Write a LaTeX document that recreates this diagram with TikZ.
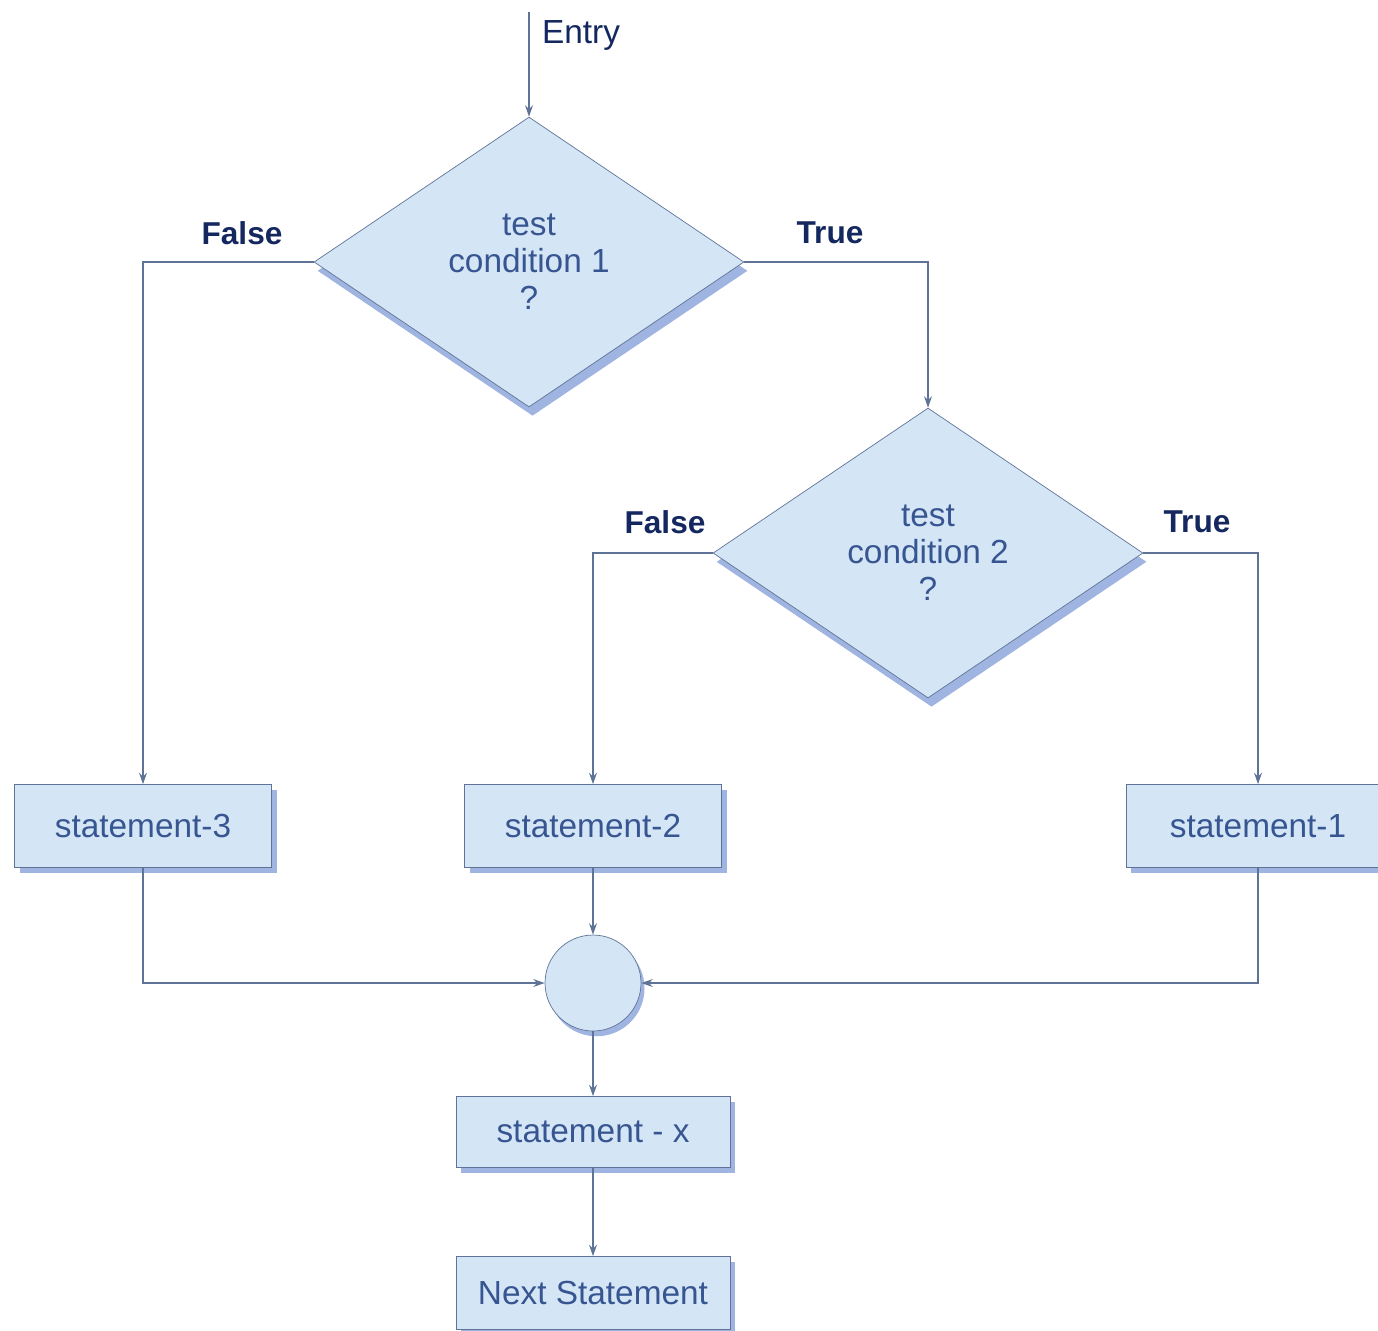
\documentclass[tikz,border=0pt]{standalone}
\usepackage{fontspec}
\setmainfont{Liberation Sans}
\usetikzlibrary{positioning,shapes.geometric,shadows,arrows.meta}
\tikzset{>={Stealth[length=6.5pt,width=4.5pt]}}
\definecolor{boxfill}{RGB}{212,230,246}
\definecolor{boxline}{RGB}{95,115,150}
\definecolor{boxtext}{RGB}{55,85,145}
\definecolor{labtext}{RGB}{20,40,95}
\definecolor{shade}{RGB}{95,130,205}

\begin{document}
\begin{tikzpicture}[x=.02cm,y=-.02cm,
  line/.style={draw=boxline,line width=.8pt},
  test/.style={diamond,draw=boxline,fill=boxfill,text=boxtext,align=center,inner sep=0pt,
    minimum width=8.6cm,minimum height=5.8cm,font=\fontsize{19}{21}\selectfont,
    drop shadow={shadow xshift=2pt,shadow yshift=-5pt,fill=shade,opacity=.6}},
  stmt/.style={rectangle,draw=boxline,fill=boxfill,text=boxtext,
    minimum width=5.15cm,minimum height=1.66cm,font=\fontsize{19}{21}\selectfont,
    drop shadow={shadow xshift=3pt,shadow yshift=-3pt,fill=shade,opacity=.6}},
  merge/.style={circle,draw=boxline,fill=boxfill,minimum size=1.92cm,inner sep=0pt,
    drop shadow={shadow xshift=2pt,shadow yshift=-3pt,fill=shade,opacity=.6}},
  lab/.style={text=labtext,font=\fontsize{18}{20}\selectfont\bfseries}]
\useasboundingbox (0,0) rectangle (1378,1330);
\node[test] (t1) at (529,262) {test\\condition 1\\?};
\node[test] (t2) at (928,553) {test\\condition 2\\?};
\node[stmt] (s3) at (143,826) {statement-3};
\node[stmt] (s2) at (593,826) {statement-2};
\node[stmt,minimum width=5.28cm] (s1) at (1258,826) {statement-1};
\node[merge] (jn) at (593,983) {};
\node[stmt,minimum width=5.48cm,minimum height=1.42cm] (sx) at (593,1132) {statement - x};
\node[stmt,minimum width=5.48cm,minimum height=1.46cm] (nx) at (593,1293) {Next Statement};
\coordinate (entry) at (529,12);
\node[text=labtext,font=\fontsize{19}{21}\selectfont] (elab) at (581,35) {Entry};
\node[lab] (f1) at (242,233) {False};
\node[lab] (tr1) at (830,233) {True};
\node[lab] (f2) at (665,522) {False};
\node[lab] (tr2) at (1197,522) {True};
\draw[line,->] (entry) -- (t1.north);
\draw[line,->] (t1.west) -| (s3.north);
\draw[line,->] (t1.east) -| (t2.north);
\draw[line,->] (t2.west) -| (s2.north);
\draw[line,->] (t2.east) -| (s1.north);
\draw[line,->] (s2.south) -- (jn.north);
\draw[line,->] (s3.south) |- (jn.west);
\draw[line,->] (s1.south) |- (jn.east);
\draw[line,->] (jn.south) -- (sx.north);
\draw[line,->] (sx.south) -- (nx.north);
\end{tikzpicture}
\end{document}
